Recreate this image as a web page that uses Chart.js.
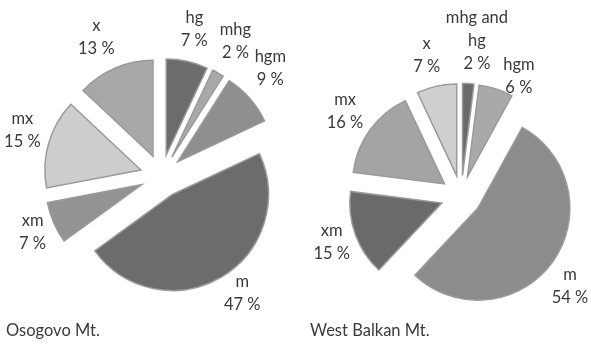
<!DOCTYPE html>
<html><head><meta charset="utf-8">
<script src="https://cdn.jsdelivr.net/npm/chart.js@4/dist/chart.umd.min.js"></script>
<style>
html,body{margin:0;padding:0;background:#fff;}
#wrap{position:relative;width:591px;height:347px;overflow:hidden;background:#fff;}
.cv{position:absolute;top:0;}
.ttl{position:absolute;font-family:Lato,sans-serif;font-size:16.5px;line-height:20px;color:#3a3a3a;white-space:nowrap;}
</style></head><body>
<div id="wrap">
<div class="cv" style="left:0;"><canvas id="c1" width="300" height="347"></canvas></div>
<div class="cv" style="left:300px;"><canvas id="c2" width="291" height="347"></canvas></div>
<div class="ttl" style="left:6px;top:320px">Osogovo Mt.</div>
<div class="ttl" style="left:310px;top:320px">West Balkan Mt.</div>
</div>
<script>
// ---- data ----
const osogovoCategories = ['hg', 'mhg', 'hgm', 'm', 'xm', 'mx', 'x'];
const osogovoValues = [7, 2, 9, 47, 7, 15, 13];
const balkanCategories = ['mhg and hg', 'hgm', 'm', 'xm', 'mx', 'x'];
const balkanValues = [2, 6, 54, 15, 16, 7];

// ---- styles / layout (not data) ----
const osogovoColors = ['#6c6c6f', '#a9a9ab', '#8f8f92', '#6c6c6f', '#939396', '#cdcdcf', '#a8a8aa'];
const balkanColors = ['#6a6a6d', '#a9a9ab', '#8c8c8f', '#6a6a6d', '#a4a4a6', '#cfcfd1'];
// [angle tweak in degrees (clockwise), distance beyond the outer radius]
const osogovoLabelAdj = [[0, 33], [0, 36], [-4, 36], [-4.6, 25], [0, 23], [2.4, 29], [-2, 36]];
const balkanLabelAdj = [[2.5, 44], [9, 21], [4.4, 29], [0, 25], [0, 31], [-1.4, 32]];

const FONT = '16.5px Lato, sans-serif';
const LINE_GAP = 23;

const explodePlugin = {
  id: 'explode',
  afterDatasetsUpdate(chart, args, opts) {
    const meta = chart.getDatasetMeta(0);
    meta.data.forEach(arc => {
      const mid = (arc.startAngle + arc.endAngle) / 2;
      arc.x = arc.x + Math.cos(mid) * opts.distance;
      arc.y = arc.y + Math.sin(mid) * opts.distance;
    });
  }
};

function wrapText(ctx, text, maxW) {
  const words = text.split(' ');
  const lines = [];
  let cur = '';
  words.forEach(w => {
    const t = cur ? cur + ' ' + w : w;
    if (cur && ctx.measureText(t).width > maxW) { lines.push(cur); cur = w; }
    else cur = t;
  });
  if (cur) lines.push(cur);
  return lines;
}

const labelPlugin = {
  id: 'sliceLabels',
  afterDatasetsDraw(chart, args, opts) {
    const ctx = chart.ctx;
    const meta = chart.getDatasetMeta(0);
    const ds = chart.data.datasets[0];
    ctx.save();
    ctx.font = FONT;
    ctx.fillStyle = '#3a3a3a';
    ctx.textAlign = 'center';
    ctx.textBaseline = 'middle';
    meta.data.forEach((arc, i) => {
      const adj = opts.adjust[i];
      const mid = (arc.startAngle + arc.endAngle) / 2 + adj[0] * Math.PI / 180;
      const dist = arc.outerRadius + adj[1];
      const cx = arc.x + Math.cos(mid) * dist;
      const cy = arc.y + Math.sin(mid) * dist;
      const lines = wrapText(ctx, chart.data.labels[i], 66);
      lines.push(ds.data[i] + ' %');
      const y0 = cy - (lines.length - 1) * LINE_GAP / 2;
      lines.forEach((l, k) => ctx.fillText(l, cx, y0 + k * LINE_GAP));
    });
    ctx.restore();
  }
};

function makePie(id, labels, values, colors, radius, explode, adjust, padding) {
  return new Chart(document.getElementById(id), {
    type: 'pie',
    data: {
      labels: labels,
      datasets: [{
        data: values,
        backgroundColor: colors,
        borderColor: '#9a9a9c',
        borderWidth: 1.5,
        borderJoinStyle: 'miter'
      }]
    },
    options: {
      responsive: false,
      animation: false,
      events: [],
      radius: radius,
      layout: { padding: padding },
      plugins: {
        legend: { display: false },
        tooltip: { enabled: false },
        explode: { distance: explode },
        sliceLabels: { adjust: adjust }
      }
    },
    plugins: [explodePlugin, labelPlugin]
  });
}

makePie('c1', osogovoCategories, osogovoValues, osogovoColors, 96, 21.5, osogovoLabelAdj,
  { left: 23, right: 0, top: 5, bottom: 0 });
makePie('c2', balkanCategories, balkanValues, balkanColors, 92, 20.6, balkanLabelAdj,
  { left: 31.4, right: 0, top: 45, bottom: 0 });
</script>
</body></html>
